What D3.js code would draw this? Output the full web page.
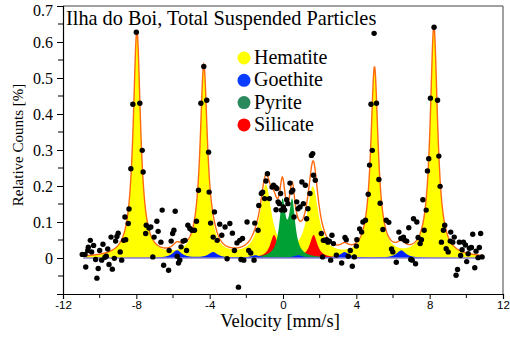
<!DOCTYPE html>
<html>
<head>
<meta charset="utf-8">
<script src="https://cdn.jsdelivr.net/npm/d3@7"></script>
<style>
  body { margin: 0; background: #fff; }
  svg { display: block; }
  .serif { font-family: "Liberation Serif", "Times New Roman", serif; }
  .sans { font-family: "Liberation Sans", Arial, sans-serif; }
</style>
</head>
<body>
<div id="chart"></div>
<script>
// measured spectrum: [velocity mm/s, relative counts %]
const points = [
  [-10.95,0.010],[-10.80,0.010],[-10.76,-0.025],[-10.65,0.021],[-10.62,0.030],[-10.51,0.049],[-10.44,0.017],
  [-10.33,0.035],[-10.22,-0.004],[-10.15,-0.056],[-10.08,-0.029],[-10.00,0.021],[-9.89,-0.006],[-9.82,0.038],
  [-9.71,0.002],[-9.64,0.005],[-9.56,0.025],[-9.49,-0.018],[-9.38,0.058],[-9.31,-0.031],[-9.20,-0.001],
  [-9.13,0.047],[-9.06,0.060],[-8.99,0.069],[-8.88,0.017],[-8.80,-0.006],[-8.69,0.049],[-8.58,0.051],
  [-8.62,0.114],[-8.44,0.096],[-8.40,0.136],[-8.30,0.248],[-8.19,0.427],[-8.00,0.627],[-7.81,0.430],
  [-7.68,0.299],[-7.63,0.239],[-7.49,0.068],[-7.46,0.091],[-7.31,0.083],[-7.21,0.086],[-7.10,0.003],
  [-7.03,0.058],[-6.88,0.102],[-6.81,0.074],[-6.66,0.044],[-6.59,0.133],[-6.51,-0.020],[-6.24,-0.034],
  [-6.21,0.021],[-6.10,0.047],[-6.02,0.068],[-5.95,0.077],[-5.88,0.130],[-5.77,0.005],[-5.70,-0.014],
  [-5.63,-0.006],[-5.56,0.031],[-5.45,0.047],[-5.34,0.049],[-5.26,0.021],[-5.19,0.091],[-5.08,0.082],
  [-4.97,0.077],[-4.83,0.077],[-4.72,0.102],[-4.61,0.188],[-4.48,0.430],[-4.32,0.532],[-4.16,0.438],
  [-4.06,0.294],[-4.03,0.183],[-3.95,0.097],[-3.81,0.058],[-3.74,0.128],[-3.59,0.049],[-3.45,0.094],
  [-3.34,0.063],[-3.16,0.086],[-3.05,-0.002],[-2.90,0.096],[-2.76,0.069],[-2.65,0.021],[-2.51,0.042],
  [-2.43,-0.081],[-2.36,0.049],[-2.29,-0.004],[-2.21,0.054],[-2.14,-0.006],[-1.96,0.100],[-1.87,0.021],
  [-1.76,0.014],[-1.58,-0.006],[-1.54,0.097],[-1.36,0.077],[-1.32,0.146],[-1.18,0.179],[-1.11,0.183],
  [-1.00,0.165],[-0.93,0.214],[-0.85,0.234],[-0.74,0.165],[-0.60,0.197],[-0.52,0.202],[-0.41,0.197],
  [-0.38,0.134],[-0.34,0.193],[-0.27,0.156],[-0.20,0.151],[-0.13,0.179],[-0.09,0.133],[0.02,0.142],
  [0.09,0.133],[0.20,0.162],[0.27,0.151],[0.38,0.208],[0.46,0.183],[0.53,0.188],[0.60,0.114],
  [0.75,0.156],[0.82,0.137],[0.93,0.142],[1.03,0.211],[1.11,0.151],[1.22,0.202],[1.29,0.109],
  [1.36,0.137],[1.47,0.179],[1.55,0.285],[1.62,0.290],[1.66,0.230],[1.76,0.216],[2.09,0.068],
  [2.16,0.003],[2.20,0.049],[2.27,0.049],[2.38,0.051],[2.45,0.044],[2.53,0.047],[2.60,-0.006],
  [2.67,0.063],[2.75,0.040],[2.91,0.008],[3.20,-0.014],[3.38,0.057],[3.45,0.051],[3.56,0.005],
  [3.67,0.021],[3.78,-0.023],[3.89,0.003],[4.00,0.033],[4.03,0.051],[4.18,0.081],[4.29,0.072],
  [4.36,0.100],[4.50,0.105],[4.65,0.177],[4.72,0.258],[4.80,0.427],[4.87,0.299],[4.97,0.624],
  [5.10,0.430],[5.23,0.218],[5.30,0.152],[5.45,0.079],[5.63,0.105],[5.77,0.099],[5.92,0.025],
  [5.99,0.017],[6.18,-0.012],[6.32,0.072],[6.43,0.054],[6.57,0.058],[6.64,0.049],[6.75,0.047],
  [6.86,0.084],[6.97,-0.004],[7.05,-0.006],[7.12,0.109],[7.23,-0.016],[7.30,0.100],[7.37,0.057],
  [7.48,0.040],[7.55,0.051],[7.63,0.162],[7.70,0.077],[7.81,0.133],[7.88,0.242],[7.95,0.276],
  [8.04,0.444],[8.24,0.641],[8.43,0.438],[8.50,0.283],[8.57,0.199],[8.64,0.044],[8.75,0.077],
  [8.82,0.091],[8.90,0.026],[9.01,0.017],[9.12,0.047],[9.15,0.072],[9.26,0.044],[9.34,0.058],
  [9.44,-0.048],[9.52,-0.032],[9.62,0.044],[9.69,0.007],[9.77,0.023],[9.84,0.044],[9.95,0.036],
  [10.02,-0.010],[10.10,0.012],[10.17,0.027],[10.28,0.029],[10.35,0.066],[10.46,-0.027],[10.53,0.019],
  [10.64,0.001],[10.71,0.029],[10.78,0.068],[10.86,0.003]
];

// fitted sub-spectra: line positions, heights, half widths
const hematitePos = [-7.97, -4.32, -0.94, 1.63, 4.99, 8.23];
const hematiteAmp = [0.628, 0.525, 0.196, 0.19, 0.522, 0.64];
const hematiteWid = [0.24, 0.24, 0.38, 0.38, 0.24, 0.24];

const goethitePos = [-5.78, -3.81, -1.5, 0.82, 3.36, 6.45];
const goethiteAmp = [0.021, 0.016, 0.007, 0.007, 0.016, 0.021];
const goethiteWid = [0.3, 0.3, 0.3, 0.3, 0.3, 0.3];

const pyritePos = [-0.03, 0.5];
const pyriteAmp = [0.147, 0.147];
const pyriteWid = [0.2, 0.2];

const silicatePos = [-0.49, 1.67];
const silicateAmp = [0.063, 0.063];
const silicateWid = [0.25, 0.25];

const legendNames = ["Hematite", "Goethite", "Pyrite", "Silicate"];
const legendColors = ["#ffff00", "#0a3cff", "#2a8a5e", "#ff0000"];

const xTicks = [-12, -8, -4, 0, 4, 8, 12];
const xMinor = [-10, -6, -2, 2, 6, 10];
const yTicks = [0, 0.1, 0.2, 0.3, 0.4, 0.5, 0.6, 0.7];
const yMinor = [-0.05, 0.05, 0.15, 0.25, 0.35, 0.45, 0.55, 0.65];

const width = 510, height = 343;
const margin = {top: 6, right: 7, bottom: 49, left: 63};

const svg = d3.select("#chart").append("svg")
  .attr("width", width)
  .attr("height", height);

const x = d3.scaleLinear().domain([-12, 12]).range([margin.left, width - margin.right]);
const y = d3.scaleLinear().domain([-0.1, 0.7]).range([height - margin.bottom, margin.top]);

const vMin = -10.9, vMax = 10.9;
const grid = d3.range(vMin, vMax + 0.001, 0.02);

function component(pos, amp, wid) {
  return grid.map(v => {
    let s = 0;
    pos.forEach((p, i) => { s += amp[i] / (1 + ((v - p) / wid[i]) ** 2); });
    return [v, s];
  });
}

const hem = component(hematitePos, hematiteAmp, hematiteWid);
const goe = component(goethitePos, goethiteAmp, goethiteWid);
const pyr = component(pyritePos, pyriteAmp, pyriteWid);
const sil = component(silicatePos, silicateAmp, silicateWid);
const fit = grid.map((v, i) => [v, hem[i][1] + goe[i][1] + pyr[i][1] + sil[i][1]]);

const area = d3.area().x(d => x(d[0])).y0(y(0)).y1(d => y(d[1]));
const line = d3.line().x(d => x(d[0])).y(d => y(d[1]));

const plot = svg.append("g");
plot.append("path").datum(hem).attr("d", area).attr("fill", "#ffff00");
plot.append("path").datum(sil).attr("d", area).attr("fill", "#ff0000");
plot.append("path").datum(pyr).attr("d", area).attr("fill", "#00a035");
plot.append("path").datum(goe).attr("d", area).attr("fill", "#0022ff");

plot.append("line")
  .attr("x1", x(vMin)).attr("x2", x(vMax))
  .attr("y1", y(0)).attr("y2", y(0))
  .attr("stroke", "#8a80cc").attr("stroke-width", 1.3);

plot.append("path").datum(fit).attr("d", line)
  .attr("fill", "none").attr("stroke", "#ff6a10").attr("stroke-width", 1.4);

plot.selectAll("circle.pt").data(points).enter()
  .append("circle")
  .attr("class", "pt")
  .attr("cx", d => x(d[0]))
  .attr("cy", d => y(d[1]))
  .attr("r", 2.7)
  .attr("fill", "#000");

// frame
svg.append("path")
  .attr("d", `M${x(-12)},${y(0.7)}H${x(12)}V${y(-0.1)}`)
  .attr("fill", "none").attr("stroke", "#444").attr("stroke-width", 1);

// axes
const xAxis = svg.append("g")
  .attr("transform", `translate(0,${y(-0.1)})`)
  .call(d3.axisBottom(x).tickValues(xTicks).tickSize(5).tickPadding(2).tickFormat(d => d < 0 ? "-" + Math.abs(d) : String(d)));
xAxis.append("g").selectAll("line").data(xMinor).enter()
  .append("line").attr("x1", d => x(d)).attr("x2", d => x(d)).attr("y1", 0).attr("y2", 4)
  .attr("stroke", "#000");
xAxis.attr("font-family", null);
xAxis.selectAll("text").attr("class", "sans").attr("font-size", 11.5);

const yAxis = svg.append("g")
  .attr("transform", `translate(${x(-12)},0)`)
  .call(d3.axisLeft(y).tickValues(yTicks).tickSize(6).tickPadding(4).tickFormat(d => d === 0 ? "0" : d3.format(".1f")(d)));
yAxis.append("g").selectAll("line").data(yMinor).enter()
  .append("line").attr("x1", 0).attr("x2", -5).attr("y1", d => y(d)).attr("y2", d => y(d))
  .attr("stroke", "#000");
yAxis.attr("font-family", null);
// top label sits a little lower so it stays inside the page
yAxis.selectAll("text").attr("class", "serif").attr("font-size", 16)
  .attr("dy", d => d === 0.7 ? "0.6em" : "0.36em");

svg.selectAll(".domain").attr("stroke", "#000").attr("stroke-width", 1.2);

// labels
svg.append("text")
  .attr("class", "serif")
  .attr("x", 280).attr("y", 327)
  .attr("text-anchor", "middle")
  .attr("font-size", 18.5)
  .text("Velocity [mm/s]");

svg.append("text")
  .attr("class", "serif")
  .attr("transform", "translate(23,145) rotate(-90)")
  .attr("text-anchor", "middle")
  .attr("font-size", 15)
  .text("Relative Counts [%]");

svg.append("text")
  .attr("class", "serif")
  .attr("x", 66).attr("y", 25)
  .attr("font-size", 20.3)
  .text("Ilha do Boi, Total Suspended Particles");

// legend
const legend = svg.append("g").attr("transform", "translate(244,58)");
const item = legend.selectAll("g").data(legendNames).enter()
  .append("g").attr("transform", (d, i) => `translate(0,${i * 22.3})`);
item.append("circle").attr("r", 6.5).attr("fill", (d, i) => legendColors[i]);
item.append("text").attr("class", "serif").attr("x", 10).attr("y", 6)
  .attr("font-size", 20)
  .text(d => d);
</script>
</body>
</html>
